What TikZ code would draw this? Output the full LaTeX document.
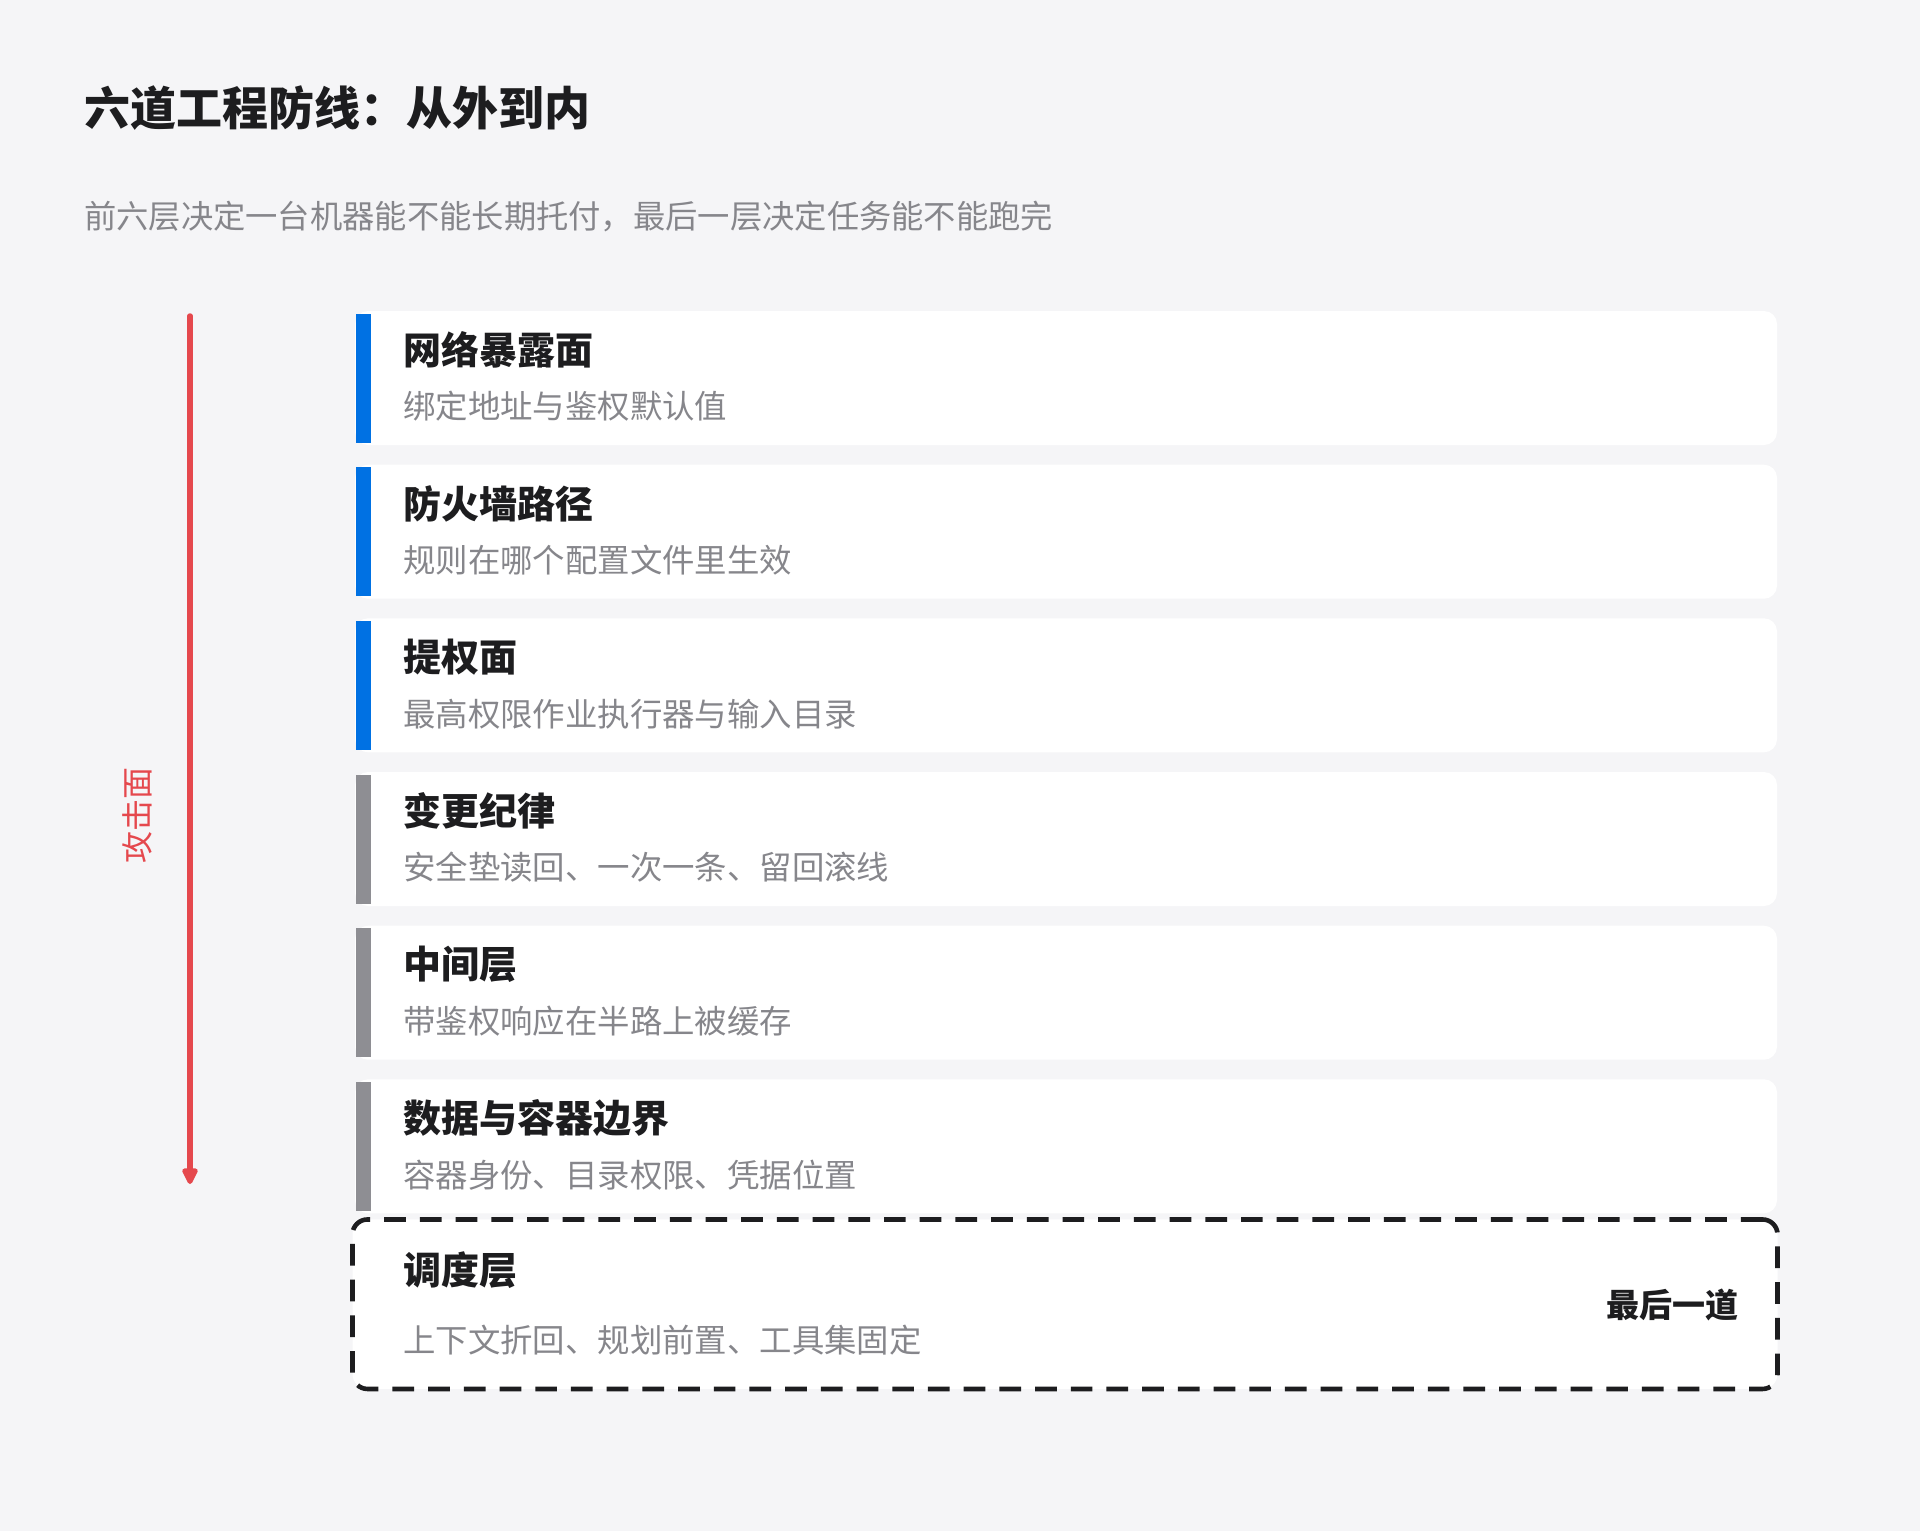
\documentclass[tikz,border=0pt]{standalone}
\usepackage{fontspec}
\setmainfont{Noto Sans CJK SC}
\usetikzlibrary{arrows.meta}
\definecolor{bg}{HTML}{F5F5F7}
\definecolor{ink}{HTML}{1D1D1F}
\definecolor{muted}{HTML}{86868B}
\definecolor{accblue}{HTML}{0071E3}
\definecolor{accgray}{HTML}{8E8E93}
\definecolor{accred}{HTML}{E5484D}
\tikzset{
  card/.style={fill=white, draw=none, rounded corners=13pt, minimum width=1422pt, minimum height=134pt, inner sep=0pt},
  lastcard/.style={fill=white, draw=ink, line width=4.6pt, dash pattern=on 21.7pt off 14pt, rounded corners=15pt, minimum width=1425pt, minimum height=169.5pt, inner sep=0pt},
  cardtitle/.style={anchor=west, inner sep=0pt, text=ink, font=\fontsize{38}{40}\selectfont\bfseries},
  cardsub/.style={anchor=west, inner sep=0pt, text=muted, font=\fontsize{32.4}{34}\selectfont},
  bluebar/.style={fill=accblue, draw=none},
  graybar/.style={fill=accgray, draw=none},
}
\begin{document}
\begin{tikzpicture}[x=1pt, y=-1pt]
\fill[bg] (0,0) rectangle (1920,1531);
\useasboundingbox (0,0) rectangle (1920,1531);

\node[anchor=west, inner sep=0pt, text=ink, font=\fontsize{46}{48}\selectfont\bfseries] (title) at (84,107.8) {六道工程防线：从外到内};
\node[anchor=west, inner sep=0pt, text=muted, font=\fontsize{32.3}{34}\selectfont] (subtitle) at (84,216.7) {前六层决定一台机器能不能长期托付，最后一层决定任务能不能跑完};

% cards
\foreach \i/\top/\bar/\t/\s in {
  1/311/bluebar/网络暴露面/绑定地址与鉴权默认值,
  2/464.7/bluebar/防火墙路径/规则在哪个配置文件里生效,
  3/618.3/bluebar/提权面/最高权限作业执行器与输入目录,
  4/772/graybar/变更纪律/安全垫读回、一次一条、留回滚线,
  5/925.7/graybar/中间层/带鉴权响应在半路上被缓存,
  6/1079.3/graybar/数据与容器边界/容器身份、目录权限、凭据位置}{
  \node[card] (card\i) at (1066,\top+67) {};
  \fill[\bar] (355.5,\top+2.5) rectangle (370.5,\top+131.5);
  \node[cardtitle] (ct\i) at (403,\top+39) {\t};
  \node[cardsub] (cs\i) at (403,\top+95.5) {\s};
}

\node[lastcard] (card7) at (1065,1304.2) {};
\node[cardtitle] (ct7) at (403,1270) {调度层};
\node[cardsub] (cs7) at (403,1340) {上下文折回、规划前置、工具集固定};
\node[anchor=east, inner sep=0pt, text=ink, font=\fontsize{33}{35}\selectfont\bfseries] (last) at (1739,1305) {最后一道};

% attack surface arrow
\coordinate (as) at (190,316);
\coordinate (ae) at (190,1184);
\draw[accred, line width=5.5pt, line cap=round, -{Triangle[width=17pt, length=19pt, round]}] (as) -- (ae);
\node[rotate=90, inner sep=0pt, text=accred, font=\fontsize{32}{34}\selectfont] (atk) at (137.5,815) {攻击面};
\end{tikzpicture}
\end{document}
